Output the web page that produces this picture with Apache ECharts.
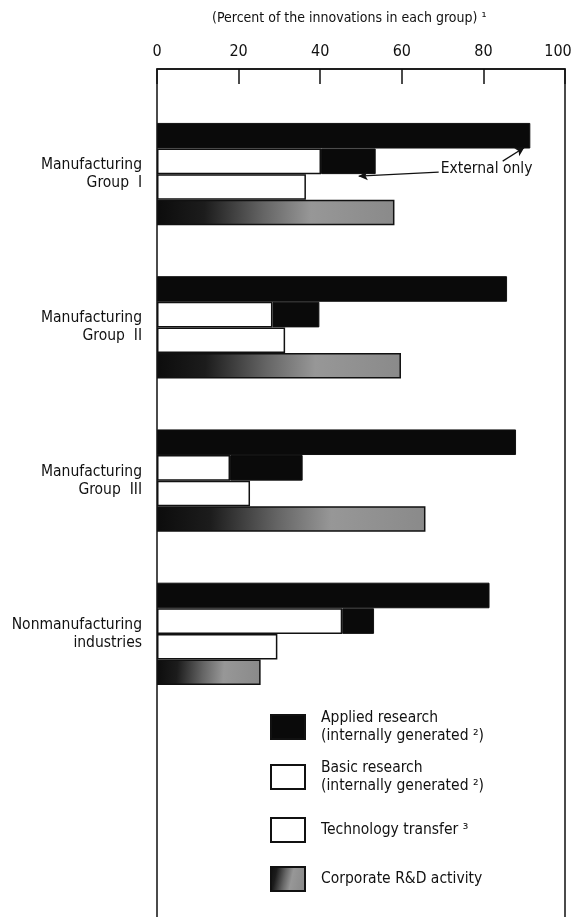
<!DOCTYPE html>
<html>
<head>
<meta charset="utf-8">
<script src="https://cdn.jsdelivr.net/npm/echarts@6/dist/echarts.min.js"></script>
<style>
  html, body { margin: 0; padding: 0; background: #fff; }
  #chart { width: 577px; height: 917px; }
</style>
</head>
<body>
<div id="chart"></div>
<script>
// categories and values (percent of innovations)
const categories = ['Manufacturing\nGroup  I', 'Manufacturing\nGroup  II', 'Manufacturing\nGroup  III', 'Nonmanufacturing\nindustries']
const applied = [91.5, 85.8, 88.0, 81.5]
const basicInternal = [40.2, 28.3, 17.9, 45.4]
const basicExternal = [13.4, 11.5, 17.8, 7.8] // "external only" part, stacked on the internal part
const techTransfer = [36.5, 31.4, 22.8, 29.5]
const corporate = [58.2, 59.8, 65.8, 25.4]
const xTicks = [0, 20, 40, 60, 80, 100]

const legendText = {
  'Applied research': 'Applied research\n(internally generated ²)',
  'Basic research': 'Basic research\n(internally generated ²)',
  'Technology transfer': 'Technology transfer ³',
  'Corporate R&D activity': 'Corporate R&D activity'
}

const FONT = "'DejaVu Sans Condensed', 'Liberation Sans', sans-serif"
const INK = '#111'
const BAR_W = 25.6

const chart = echarts.init(document.getElementById('chart'))

// grey speckle of the corporate bars: black on the left, grey to the right
const corpFill = new echarts.graphic.LinearGradient(0, 0, 1, 0.3, [
  { offset: 0, color: '#0c0c0c' },
  { offset: 0.2, color: '#1c1c1c' },
  { offset: 0.45, color: '#656565' },
  { offset: 0.65, color: '#979797' },
  { offset: 1, color: '#8a8a8a' }
])

function legendAt (name, top) {
  return {
    data: [name],
    orient: 'vertical',
    left: 270,
    top: top,
    padding: 0,
    icon: 'rect',
    itemWidth: 34,
    itemHeight: 24,
    selectedMode: false,
    formatter: n => legendText[n],
    textStyle: { fontFamily: FONT, fontSize: 15.5, lineHeight: 18, color: INK, padding: [0, 0, 0, 11] }
  }
}

const option = {
  animation: false,
  backgroundColor: '#fff',
  title: {
    text: '(Percent of the innovations in each group) ¹',
    left: 212,
    top: 11,
    padding: 0,
    textStyle: { fontFamily: FONT, fontSize: 14, fontWeight: 'normal', color: INK }
  },
  legend: [
    legendAt('Applied research', 709),
    legendAt('Basic research', 759),
    legendAt('Technology transfer', 817),
    legendAt('Corporate R&D activity', 866)
  ],
  grid: [
    { left: 157, right: 12, top: 97.5, height: 613, outerBoundsMode: 'none', containLabel: false },
    // frame round the plot, runs off the bottom of the page
    { left: 157, right: 12, top: 69, bottom: -20, outerBoundsMode: 'none', containLabel: false, show: true, borderColor: INK, borderWidth: 1.5, backgroundColor: 'transparent' }
  ],
  xAxis: [
    {
      type: 'value',
      position: 'top',
      offset: 28.5,
      min: xTicks[0],
      max: xTicks[xTicks.length - 1],
      interval: 20,
      axisLine: { show: true, lineStyle: { color: INK, width: 1.5 } },
      axisTick: { show: true, inside: true, length: 15, lineStyle: { color: INK, width: 1.5 } },
      splitLine: { show: false },
      axisLabel: {
        margin: 9,
        fontFamily: FONT,
        fontSize: 16,
        color: INK,
        formatter: v => v === 100 ? '{m|100}' : String(v),
        rich: { m: { fontFamily: FONT, fontSize: 16, color: INK, padding: [0, 14, 0, 0] } }
      }
    },
    { gridIndex: 1, type: 'value', show: false, min: 0, max: 1 }
  ],
  yAxis: [
    {
      type: 'category',
      data: categories,
      inverse: true,
      axisLine: { show: false },
      axisTick: { show: false },
      axisLabel: { margin: 15, fontFamily: FONT, fontSize: 15.5, lineHeight: 18, color: INK, align: 'right' }
    },
    { gridIndex: 1, type: 'value', show: false, min: 0, max: 1 }
  ],
  series: [
    {
      name: 'Applied research',
      type: 'bar',
      barWidth: BAR_W,
      barGap: '0%',
      data: applied,
      itemStyle: { color: '#0a0a0a', borderColor: INK, borderWidth: 1 }
    },
    {
      name: 'Basic research',
      type: 'bar',
      stack: 'basic',
      barWidth: BAR_W,
      data: basicInternal,
      itemStyle: { color: '#fff', borderColor: INK, borderWidth: 1.5 }
    },
    {
      name: 'External only',
      type: 'bar',
      stack: 'basic',
      barWidth: BAR_W,
      data: basicExternal,
      itemStyle: { color: '#0a0a0a', borderColor: INK, borderWidth: 1 }
    },
    {
      name: 'Technology transfer',
      type: 'bar',
      barWidth: BAR_W,
      data: techTransfer,
      itemStyle: { color: '#fff', borderColor: INK, borderWidth: 1.5 }
    },
    {
      name: 'Corporate R&D activity',
      type: 'bar',
      barWidth: BAR_W,
      data: corporate,
      itemStyle: { color: corpFill, borderColor: INK, borderWidth: 1.5 }
    }
  ]
}

chart.setOption(option)

// "External only" note with two arrows, placed from group I's bars
const endApplied = chart.convertToPixel({ seriesIndex: 0 }, [applied[0], 0])
const endBasic = chart.convertToPixel({ seriesIndex: 0 }, [basicInternal[0] + basicExternal[0], 0])
const c = endApplied[1]
const textX = endBasic[0] + 65
chart.setOption({
  graphic: [{
    type: 'text',
    left: textX,
    top: c - 13,
    style: { text: 'External only', fontFamily: FONT, fontSize: 15.5, fill: INK }
  }],
  series: [{}, {}, {
    markLine: {
      silent: true,
      symbol: ['none', 'arrow'],
      symbolSize: [7, 9],
      label: { show: false },
      lineStyle: { color: INK, width: 1.2, type: 'solid' },
      data: [
        [{ x: textX + 62, y: c - 13 }, { x: endApplied[0] - 6, y: c - BAR_W - 1 }],
        [{ x: textX - 2, y: c - 2 }, { x: endBasic[0] - 17, y: c + 2 }]
      ]
    }
  }]
})
</script>
</body>
</html>
